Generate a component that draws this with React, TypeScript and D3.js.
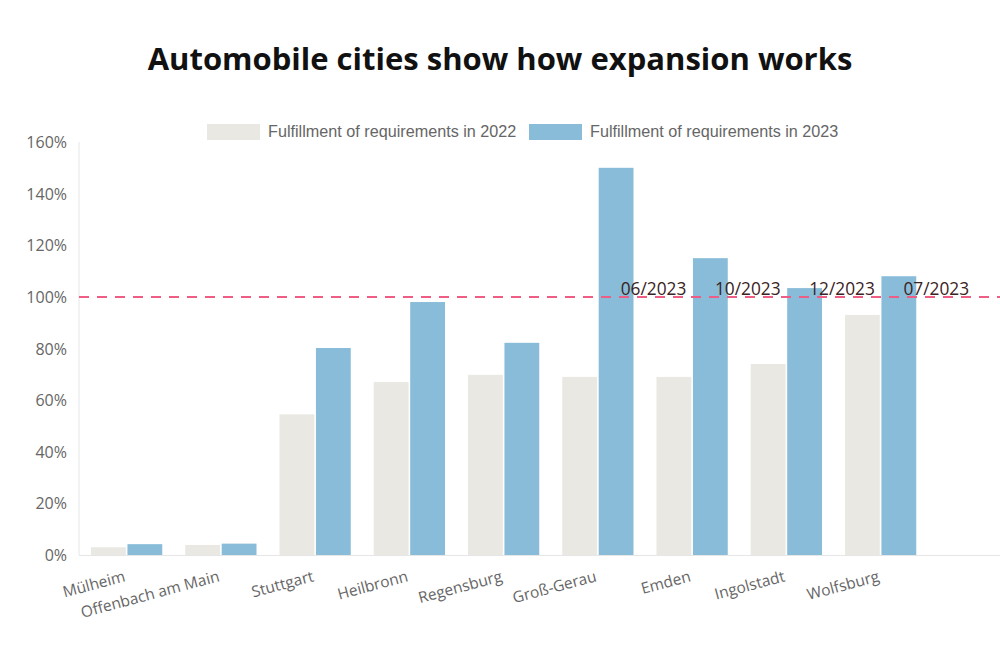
import { useEffect, useRef } from 'react';
import * as d3 from 'd3';

const cities = [
  'Mülheim',
  'Offenbach am Main',
  'Stuttgart',
  'Heilbronn',
  'Regensburg',
  'Groß-Gerau',
  'Emden',
  'Ingolstadt',
  'Wolfsburg',
];
const values2022 = [3, 3.9, 54.5, 67, 69.8, 69, 69, 74, 93];
const values2023 = [4.2, 4.4, 80.2, 98, 82.2, 150, 115, 103.4, 108];
const dates = ['', '', '', '', '', '06/2023', '10/2023', '12/2023', '07/2023'];
const yTicks = [0, 20, 40, 60, 80, 100, 120, 140, 160];
const seriesNames = ['Fulfillment of requirements in 2022', 'Fulfillment of requirements in 2023'];
const colors = ['#e9e8e3', '#89bcd9'];

export default function App() {
  const ref = useRef<SVGSVGElement>(null);

  useEffect(() => {
    const el = ref.current;
    if (!el) return;
    const svg = d3.select(el);
    svg.selectAll('*').remove();

    const width = 1000;
    const height = 648;
    const left = 79;
    const bottom = 555;
    const top = 142;

    const x = d3.scaleBand<string>().domain(cities).range([left, left + 9 * 94.25]).paddingInner(0).paddingOuter(0);
    const y = d3.scaleLinear().domain([0, 160]).range([bottom, top]);
    const inner = d3.scaleBand<number>().domain([0, 1]).range([12, x.bandwidth() - 11]).paddingInner(0.045);

    svg.attr('viewBox', `0 0 ${width} ${height}`);

    svg
      .append('text')
      .attr('x', width / 2)
      .attr('y', 70)
      .attr('text-anchor', 'middle')
      .attr('font-family', '"Open Sans", sans-serif')
      .attr('font-weight', 700)
      .attr('font-size', 31)
      .attr('fill', '#111')
      .text('Automobile cities show how expansion works');

    // legend
    const legendX = [207, 529];
    seriesNames.forEach((name, i) => {
      svg.append('rect').attr('x', legendX[i]).attr('y', 124).attr('width', 53).attr('height', 16).attr('fill', colors[i]);
      svg
        .append('text')
        .attr('x', legendX[i] + 61)
        .attr('y', 137)
        .attr('font-family', '"Liberation Sans", Arial, sans-serif')
        .attr('font-size', 16.2)
        .attr('fill', '#666')
        .text(name);
    });

    // y axis
    svg.append('line').attr('x1', left).attr('x2', left).attr('y1', top).attr('y2', bottom).attr('stroke', '#e6e6e6');
    svg
      .append('g')
      .selectAll('text')
      .data(yTicks)
      .join('text')
      .attr('x', 67)
      .attr('y', (d) => y(d) + 6)
      .attr('text-anchor', 'end')
      .attr('font-family', '"Open Sans", sans-serif')
      .attr('font-size', 16)
      .attr('fill', '#666')
      .text((d) => `${d}%`);

    // bars
    const series = [values2022, values2023];
    series.forEach((vals, s) => {
      svg
        .append('g')
        .selectAll('rect')
        .data(cities)
        .join('rect')
        .attr('x', (d) => (x(d) ?? 0) + (inner(s) ?? 0))
        .attr('width', inner.bandwidth())
        .attr('y', (_d, i) => y(vals[i]))
        .attr('height', (_d, i) => bottom - y(vals[i]))
        .attr('fill', colors[s]);
    });

    // x axis baseline
    svg.append('line').attr('x1', left).attr('x2', width).attr('y1', bottom + 0.5).attr('y2', bottom + 0.5).attr('stroke', '#e6e6e6');

    // 100% target line
    svg
      .append('line')
      .attr('x1', left)
      .attr('x2', width)
      .attr('y1', y(100))
      .attr('y2', y(100))
      .attr('stroke', '#ef5d85')
      .attr('stroke-width', 2)
      .attr('stroke-dasharray', '10 8');

    // date annotations
    svg
      .append('g')
      .selectAll('text')
      .data(cities.filter((_c, i) => dates[i]))
      .join('text')
      .attr('x', (d) => (x(d) ?? 0) + (inner(1) ?? 0) + 22)
      .attr('y', y(100) - 2)
      .attr('font-family', '"Open Sans", sans-serif')
      .attr('font-size', 17.3)
      .attr('fill', '#3a2222')
      .text((d) => dates[cities.indexOf(d)]);

    // x labels
    svg
      .append('g')
      .selectAll('text')
      .data(cities)
      .join('text')
      .attr('transform', (d) => `translate(${(x(d) ?? 0) + x.bandwidth() / 2},${581}) rotate(-15)`)
      .attr('text-anchor', 'end')
      .attr('font-family', '"Open Sans", sans-serif')
      .attr('font-size', 15.5)
      .attr('fill', '#666')
      .text((d) => d);
  }, []);

  return (
    <div style={{ position: 'fixed', left: 0, top: 0, width: 1000, height: 648 }}>
      <svg ref={ref} width={1000} height={648} style={{ display: 'block', background: '#fff' }} />
    </div>
  );
}
